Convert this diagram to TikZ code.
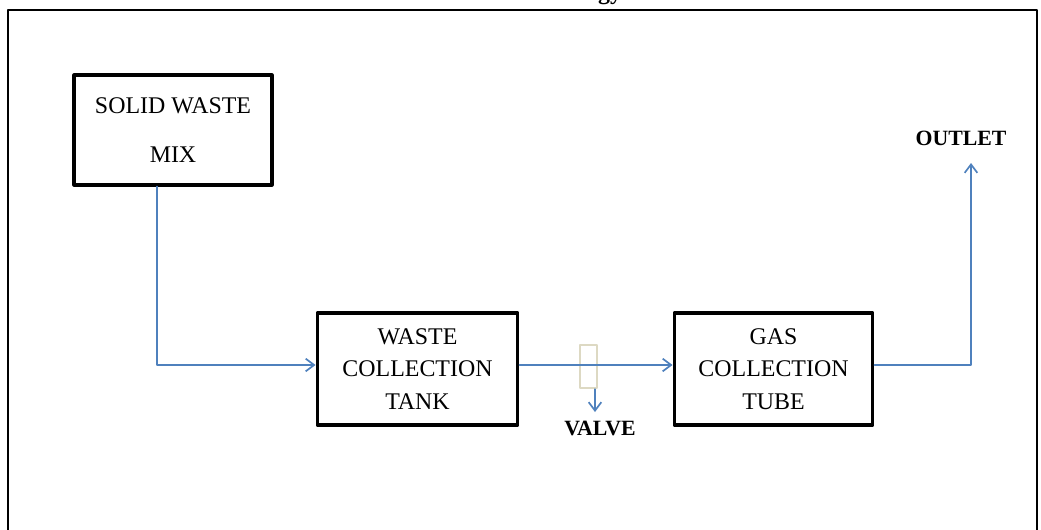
\documentclass[tikz,border=0pt]{standalone}
\usepackage{fontspec}
\setmainfont{Liberation Serif}
\usetikzlibrary{arrows.meta}
\definecolor{flowblue}{RGB}{79,129,189}
\definecolor{valvetan}{RGB}{221,217,195}
\newcommand{\boxfont}{\fontsize{17}{23}\selectfont}
\begin{document}
\begin{tikzpicture}[x=0.025cm, y=-0.025cm, line join=round, line cap=round,
  unit/.style={draw, line width=2.2pt, minimum width=4.95cm, minimum height=2.75cm, align=center, font=\boxfont, inner sep=0pt},
  flow/.style={draw=flowblue, line width=1.2pt, -{Straight Barb[length=6pt,width=9pt]}},
  tag/.style={font=\fontsize{15.5}{18}\selectfont\bfseries, inner sep=1pt}]
\useasboundingbox (0,0) rectangle (1041,529);
% frame
\draw[line width=2pt] (8,540) -- (8,10) -- (1037,10) -- (1037,540);
\node[anchor=base east, font=\fontsize{17}{20}\selectfont\bfseries] (title) at (627,-1) {Methodology};
\node[unit] (solid) at (173,130) {SOLID WASTE\\[12pt]MIX};
\node[unit, minimum width=5.02cm, minimum height=2.8cm] (tank) at (417.5,369) {WASTE\\COLLECTION\\TANK};
\node[unit, minimum width=4.97cm, minimum height=2.8cm] (gas) at (773.5,369) {GAS\\COLLECTION\\TUBE};
\node[draw=valvetan, line width=1.5pt, minimum width=0.42cm, minimum height=1.08cm, inner sep=0pt] (valve) at (588.5,366.5) {};
\node[tag] (vlabel) at (600,428) {VALVE};
\node[tag] (outlet) at (961,138) {OUTLET};
\coordinate (bend) at (157,365);
\coordinate (vtip) at (595,412);
\coordinate (corner) at (971,365);
\coordinate (otip) at (971,163);
\draw[flow] (solid.south -| bend) -- (bend) -- (bend -| tank.west);
\draw[flow] (tank.east |- bend) -- (gas.west |- bend);
\draw[flow] (valve.south -| vtip) -- (vtip);
\draw[flow] (gas.east |- bend) -- (corner) -- (otip);
\end{tikzpicture}
\end{document}
